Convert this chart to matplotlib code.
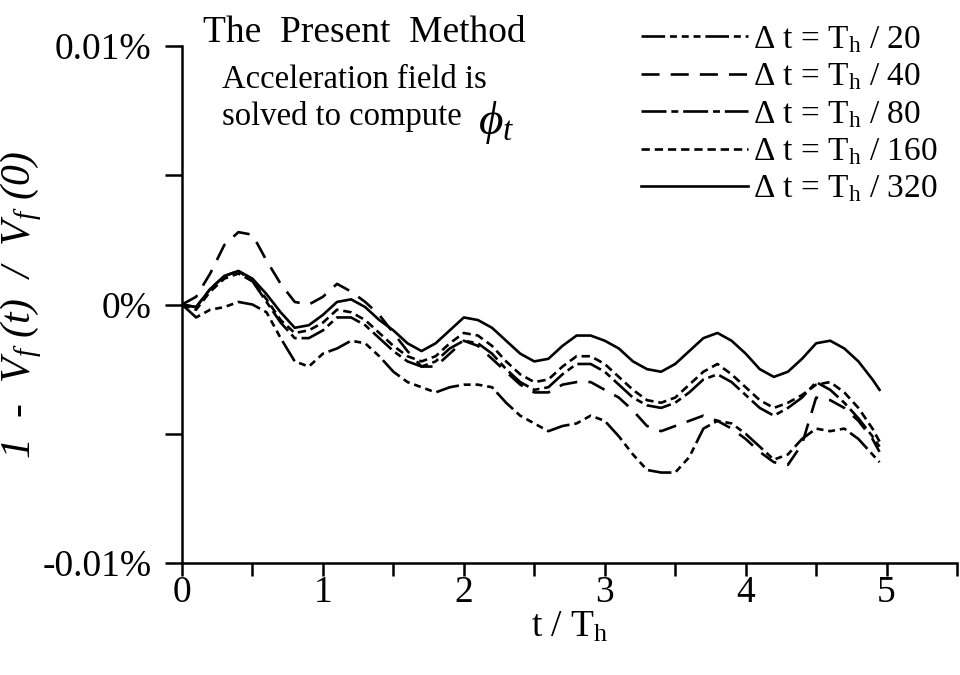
import numpy as np
import matplotlib.pyplot as plt

plt.rcParams['font.family'] = ['Liberation Serif', 'DejaVu Serif']
plt.rcParams['mathtext.fontset'] = 'custom'
plt.rcParams['mathtext.rm'] = 'Liberation Serif'
plt.rcParams['mathtext.it'] = 'Liberation Serif:italic'
plt.rcParams['lines.scale_dashes'] = False

# time in wave periods; volume error 1 - Vf(t)/Vf(0) in units of 1e-4 %
t = np.append(np.arange(50) / 10, 4.95)

err_20 = [0, -5, -2, -1, 1, 0, -3, -13, -22, -24,
          -19, -17, -14, -15, -20, -26, -30, -32, -34, -32,
          -31, -31, -32, -38, -43, -46, -49, -47, -46, -43,
          -45, -51, -58, -64, -65, -65, -59, -48, -45, -46,
          -50, -55, -60, -58, -52, -48, -49, -48, -52, -58,
          -61]
err_40 = [0, 3, 12, 23, 28, 27, 17, 8, 1, 0,
          3, 8, 5, 1, -4, -11, -18, -24, -24, -19,
          -14, -16, -21, -26, -31, -34, -34, -31, -30, -30,
          -33, -36, -41, -47, -49, -47, -45, -43, -45, -48,
          -52, -57, -61, -62, -54, -36, -37, -40, -45, -52,
          -57]
err_80 = [0, -1, 6, 11, 13, 9, 1, -7, -13, -13,
          -10, -5, -5, -8, -13, -18, -22, -24, -22, -17,
          -14, -15, -19, -25, -30, -33, -32, -27, -23, -23,
          -26, -31, -36, -39, -40, -38, -34, -29, -27, -30,
          -35, -40, -43, -40, -36, -30, -33, -38, -44, -51,
          -55]
err_160 = [0, -2, 5, 10, 12, 9, 2, -6, -11, -10,
           -7, -2, -3, -6, -11, -16, -20, -22, -20, -15,
           -11, -12, -16, -22, -27, -30, -29, -24, -20, -20,
           -23, -28, -33, -37, -38, -36, -31, -26, -23, -27,
           -32, -37, -40, -38, -35, -31, -30, -34, -40, -48,
           -53]
err_320 = [0, -1, 6, 11, 13, 10, 4, -3, -9, -8,
           -4, 1, 2, -1, -6, -10, -15, -18, -15, -10,
           -5, -6, -9, -14, -19, -22, -21, -16, -12, -12,
           -14, -17, -22, -25, -26, -23, -18, -13, -11, -14,
           -19, -25, -28, -26, -21, -15, -14, -17, -22, -29,
           -33]

steps = ['20', '40', '80', '160', '320']
series = [err_20, err_40, err_80, err_160, err_320]
styles = [(0, (17, 3.5, 5, 3.5, 5, 3.5, 5, 3.5)),
          (0, (13, 8)),
          (0, (18, 3.5, 5, 3.5)),
          (0, (6, 3.5)),
          '-']

fig = plt.figure(figsize=(9.6, 6.75), dpi=100)
ax = fig.add_axes([0.1896, 0.1659, 0.8073, 0.7659])

for n, y, ls in zip(steps, series, styles):
    ax.plot(t, y, color='black', lw=1.9, ls=ls,
            label=r'$\Delta$ t = T$_{\mathrm{h}}$ / ' + n)

ax.set_xlim(0, 5.5)
ax.set_ylim(-100, 100)
ax.set_xticks(np.arange(0, 5.6, 0.5))
ax.set_xticklabels(['0', '', '1', '', '2', '', '3', '', '4', '', '5', ''])
ax.set_yticks([-100, -50, 0, 50, 100])
ax.set_yticklabels(['-0.01%', '', '0%', '', '0.01%'])
for s in ['top', 'right']:
    ax.spines[s].set_visible(False)
for s in ['left', 'bottom']:
    ax.spines[s].set_linewidth(1.8)
ax.tick_params(axis='both', direction='out', width=1.8, labelsize=27)
ax.tick_params(axis='x', length=9, pad=0)
ax.tick_params(axis='y', length=12, pad=10)

ax.set_xlabel('t / T$_{\\mathrm{h}}$', fontsize=27, labelpad=0)
ax.set_ylabel(r'1  -  V$_{\mathit{f}}$ (t)  /  V$_{\mathit{f}}$ (0)',
              fontsize=30, fontstyle='italic')
ax.yaxis.set_label_coords(-0.178, 0.5)

fig.text(203 / 960, 1 - 33 / 675, 'The  Present  Method', fontsize=27, va='center')
fig.text(222 / 960, 1 - 80 / 675, 'Acceleration field is', fontsize=23.5, va='center')
fig.text(222 / 960, 1 - 117 / 675, 'solved to compute', fontsize=23.5, va='center')
fig.text(478 / 960, 1 - 122 / 675, r'$\phi_t$', fontsize=34, va='center')

ax.legend(loc='upper right', bbox_to_anchor=(937 / 960, 1 - 24 / 675),
          bbox_transform=fig.transFigure, frameon=False, fontsize=24,
          handlelength=3.2, handletextpad=0.15, labelspacing=0.2,
          borderpad=0, borderaxespad=0)

fig.savefig('out.png', dpi=100)
